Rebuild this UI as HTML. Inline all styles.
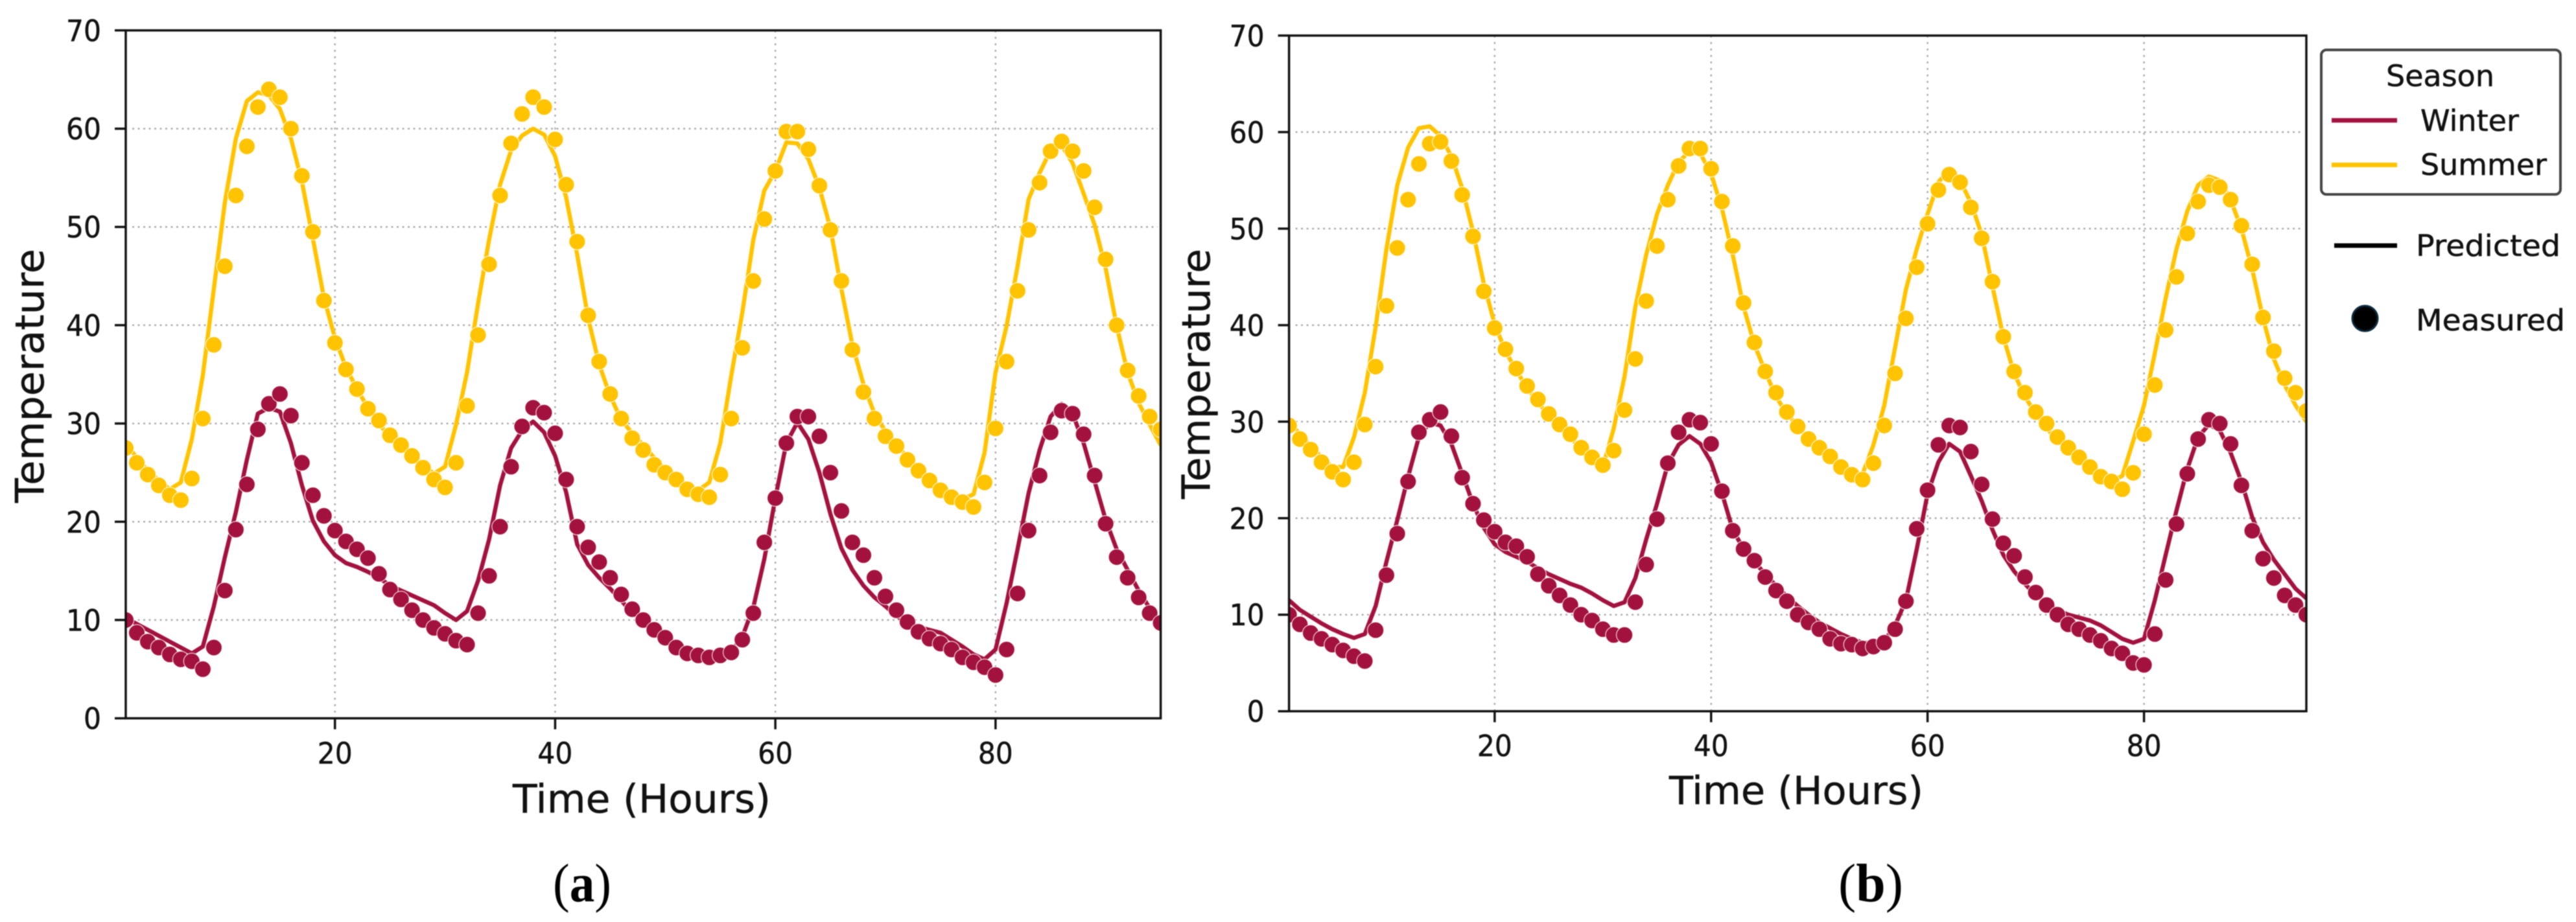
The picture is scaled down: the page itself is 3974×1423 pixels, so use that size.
<!DOCTYPE html>
<html lang="en">
<head>
<meta charset="utf-8">
<title>Measured and predicted temperature by season</title>
<style>
html,body{margin:0;padding:0;background:#fff;width:3974px;height:1423px;overflow:hidden}
svg{display:block;filter:blur(0.7px)}
text{font-family:"DejaVu Sans","Liberation Sans",sans-serif;fill:#111;stroke:#111;stroke-width:0.5px}
.cap{font-family:"Liberation Serif",serif;fill:#000;stroke:none}
</style>
</head>
<body>
<svg id="figure" xmlns="http://www.w3.org/2000/svg" width="3974" height="1423" viewBox="0 0 3974 1423">
  <rect x="0" y="0" width="3974" height="1423" fill="#fff"/>
  <defs>
    <clipPath id="clip-a"><rect x="194" y="47" width="1597" height="1062"/></clipPath>
    <clipPath id="clip-b"><rect x="1988.6" y="55" width="1570" height="1043"/></clipPath>
  </defs>
  <g id="panel-a"></g>
  <g id="panel-b"></g>

  <text x="791" y="1254" font-size="61" textLength="398" lengthAdjust="spacingAndGlyphs">Time (Hours)</text>
  <text transform="translate(67,776) rotate(-90)" font-size="61" textLength="392" lengthAdjust="spacingAndGlyphs">Temperature</text>
  <text x="2575" y="1241" font-size="60" textLength="392" lengthAdjust="spacingAndGlyphs">Time (Hours)</text>
  <text transform="translate(1866,770) rotate(-90)" font-size="60" textLength="386" lengthAdjust="spacingAndGlyphs">Temperature</text>

  <text class="cap" x="853" y="1391" font-size="84" textLength="90" lengthAdjust="spacingAndGlyphs">(<tspan font-weight="bold">a</tspan>)</text>
  <text class="cap" x="2836" y="1391" font-size="84" textLength="100" lengthAdjust="spacingAndGlyphs">(<tspan font-weight="bold">b</tspan>)</text>

  <g>
    <rect x="3581" y="77" width="369" height="223" rx="8" ry="8" fill="#fff" stroke="#444" stroke-width="4"/>
    <text x="3681" y="133" font-size="45" textLength="167" lengthAdjust="spacingAndGlyphs">Season</text>
    <line x1="3597" x2="3698" y1="185.7" y2="185.7" stroke="#a3123f" stroke-width="7"/>
    <text x="3734" y="202" font-size="45" textLength="152" lengthAdjust="spacingAndGlyphs">Winter</text>
    <line x1="3597" x2="3698" y1="254.5" y2="254.5" stroke="#ffc300" stroke-width="7"/>
    <text x="3734" y="270" font-size="45" textLength="195" lengthAdjust="spacingAndGlyphs">Summer</text>
    <line x1="3601" x2="3698" y1="379" y2="379" stroke="#000" stroke-width="7"/>
    <text x="3727" y="395" font-size="45" textLength="223" lengthAdjust="spacingAndGlyphs">Predicted</text>
    <circle cx="3648.5" cy="491.5" r="19.5" fill="#000" stroke="#0b2a3c" stroke-width="3"/>
    <text x="3727" y="510" font-size="45" textLength="230" lengthAdjust="spacingAndGlyphs">Measured</text>
  </g>
</svg>
<script>
const hours = [
1,2,3,4,5,6,7,8,9,10,11,12,13,14,15,16,17,18,19,20,
21,22,23,24,25,26,27,28,29,30,31,32,33,34,35,36,37,38,39,40,
41,42,43,44,45,46,47,48,49,50,51,52,53,54,55,56,57,58,59,60,
61,62,63,64,65,66,67,68,69,70,71,72,73,74,75,76,77,78,79,80,
81,82,83,84,85,86,87,88,89,90,91,92,93,94,95];
const xTickLabels = [20,40,60,80];
const yTickLabels = [0,10,20,30,40,50,60,70];

const summerMeasuredA = [
27.5,26,24.8,23.7,22.7,22.2,24.4,30.5,38,46,
53.2,58.2,62.2,64,63.2,60,55.2,49.5,42.5,38.2,
35.5,33.5,31.5,30.3,28.8,27.8,26.7,25.5,24.3,23.5,
26,31.8,39,46.2,53.2,58.5,61.5,63.2,62.2,58.9,
54.3,48.5,41,36.3,33,30.5,28.5,27.3,25.8,25,
24.3,23.3,22.8,22.5,24.8,30.5,37.7,44.5,50.8,55.7,
59.7,59.7,57.9,54.2,49.7,44.5,37.5,33.2,30.5,28.7,
27.7,26.3,25.2,24.2,23.2,22.5,22,21.5,24,29.5,
36.3,43.5,49.7,54.5,57.7,58.7,57.7,55.7,52,46.7,
40,35.4,32.8,30.7,29.4];
const summerPredictedA = [
28,26.5,25.2,24.2,23.3,24,28.4,34.9,43.7,52.5,
59,62.8,63.7,63.4,62,59,54.6,48.8,42.8,38.7,
35.7,33.5,31.6,29.9,28.7,27.5,27,25.7,24.9,25.6,
29.9,35.2,42.2,48.7,54.3,57.8,59.3,60,59.4,57.2,
53,47.2,40.7,36,32.8,30.4,29,27.8,26.5,25.3,
24.5,23.7,23.2,24,28,34.9,41.3,48.7,53.7,55.7,
58.6,58.5,56.9,54,49.9,43.7,38,34,31,29.2,
27.9,26.5,25.4,24.4,23.4,22.8,22.3,22.8,27,35.2,
39.9,46,52.8,55.5,57.8,58.3,56.5,53.4,50.2,45.8,
39.9,35.2,32.1,29.9,27.8];
const winterMeasuredA = [
10,8.7,7.8,7.2,6.5,6,5.8,5,7.2,13,
19.2,23.8,29.4,32,33,30.8,26,22.7,20.6,19.1,
18,17.2,16.3,14.7,13.1,12.1,11,10,9.2,8.6,
7.9,7.5,10.7,14.5,19.5,25.6,29.7,31.6,31.1,29,
24.3,19.5,17.4,15.9,14.3,12.6,11.1,10,9,8.2,
7.2,6.6,6.4,6.2,6.4,6.7,8,10.7,17.9,22.4,
28,30.7,30.7,28.7,25,21.1,17.9,16.6,14.3,12.4,
11,9.8,8.8,8.1,7.6,7,6.2,5.7,5.2,4.4,
7,12.7,19.1,24.7,29.1,31.3,31,28.9,24.7,19.8,
16.4,14.3,12.3,10.7,9.7];
const winterPredictedA = [
10.2,9.6,9,8.4,7.8,7.2,6.6,7.3,11.4,16.4,
21,26.3,31,31.6,31.2,28,23.7,20.1,18,16.6,
15.8,15.4,14.9,14.3,13.5,13,12.5,12,11.5,10.7,
10,10.9,14,18.2,23.7,27.5,29.3,30.2,29.1,26.7,
23,17.7,15.6,14.3,13.2,12,10.7,9.9,9,8.2,
7.4,6.9,6.4,6.3,6.4,6.8,8.3,11.3,16.2,22.4,
28,30.1,28.4,25,20.8,17.3,15.1,13.5,12.3,11.4,
10.4,9.8,9.3,9,8.7,8,7.3,6.5,6,7,
11.7,17.2,22.9,27.3,30.7,32,31,28,24.1,20.2,
17.2,15.1,13,11.2,9.4];

const summerMeasuredB = [
29.6,28.2,27.1,25.8,24.8,24,25.8,29.7,35.7,42,
48,53,56.7,58.8,59,57,53.5,49.2,43.5,39.7,
37.5,35.5,33.7,32.3,30.8,29.7,28.7,27.3,26.3,25.5,
27,31.2,36.5,42.5,48.2,53,56.5,58.3,58.3,56.2,
52.8,48.2,42.3,38.2,35.2,33,31,29.5,28.2,27.3,
26.4,25.3,24.5,24,25.7,29.6,35,40.7,46,50.5,
54,55.6,54.8,52.2,49,44.5,38.8,35.2,33,31,
29.8,28.4,27.3,26.3,25.3,24.3,23.8,23,24.7,28.7,
33.8,39.5,45,49.5,52.8,54.5,54.3,53,50.3,46.3,
40.8,37.3,34.5,33,31.1];
const summerPredictedB = [
30,28.7,27.5,26.3,25.3,25.3,28.4,33,39.8,47.9,
54.5,58.4,60.4,60.6,59.6,57.5,54.2,49.7,44.3,40.1,
37.3,35.3,33.5,32,30.7,29.5,28.4,27.1,25.8,25.3,
29.3,34.7,41.9,47.3,51.5,54.5,56.9,58,57.8,55.7,
52.1,47.3,41.9,38,35.2,32.6,30.8,29.6,28.2,27,
26,25.2,24.5,24.6,27.6,31.7,37.7,43.7,47.9,51.5,
54.8,56.1,55,52.7,49.4,44,38.8,35,32.6,30.8,
29.3,28.1,27,26,25,24.3,23.8,24.4,28,31.7,
37.1,42.8,47.9,51.8,54.5,55.4,55,53,50,45.8,
40.7,36.5,33.8,31.7,30];
const winterMeasuredB = [
10,9,8.1,7.5,6.9,6.3,5.7,5.2,8.4,14.1,
18.4,23.8,28.9,30.2,31,28.5,24.2,21.5,19.8,18.6,
17.5,17.1,16,14.2,13,12,11,10,9.4,8.5,
7.9,7.9,11.3,15.2,19.9,25.7,28.9,30.2,29.9,27.7,
22.8,18.7,16.8,15.6,13.9,12.5,11.4,10,9.2,8.5,
7.5,7,6.9,6.5,6.7,7.1,8.5,11.4,18.9,22.9,
27.6,29.6,29.4,26.9,23.5,19.9,17.4,16.1,13.9,12.3,
11,10,9,8.5,7.9,7.3,6.5,6,5,4.8,
8,13.6,19.4,24.6,28.2,30.2,29.8,27.7,23.4,18.7,
15.8,13.8,12,11,10];
const winterPredictedB = [
11.5,10.5,9.8,9.1,8.5,8,7.6,8,10.9,15.5,
19.8,24.3,28.4,29.9,29.6,27.7,24.6,21.5,19,17.3,
16.5,16,15.5,14.8,14.2,13.7,13.2,12.8,12.2,11.5,
10.9,11.3,13.8,17.8,21.5,25.6,27.6,28.5,27.7,25.8,
22.6,18.8,16.8,15.5,14.2,13,11.9,10.9,10,9.2,
8.6,8,7.5,7.1,7.1,7.3,8.9,11.5,16.8,22.5,
25.8,27.7,26.9,24.4,21.8,18.8,16.2,14.5,13.2,12,
11.2,10.5,10,9.7,9.4,8.9,8.2,7.5,7.1,7.5,
11.5,16.2,20.8,25.1,28.4,29.7,29.1,26.8,23.8,20.1,
17.5,15.7,14.2,12.7,11.7];

const SVGNS = 'http://www.w3.org/2000/svg';
const WINTER = '#a3123f';
const SUMMER = '#ffc300';

function make(tag, parent, attrs) {
  const el = document.createElementNS(SVGNS, tag);
  for (const k in attrs) el.setAttribute(k, attrs[k]);
  parent.appendChild(el);
  return el;
}

function drawPanel(id, box, series) {
  const root = document.getElementById(id);
  const sx = function (h) { return box.left + (h - 1) * (box.right - box.left) / 94; };
  const sy = function (v) { return box.bottom - v * (box.bottom - box.top) / 70; };

  xTickLabels.forEach(function (t) {
    const g = make('line', root, {x1: sx(t), x2: sx(t), y1: box.top, y2: box.bottom, stroke: '#aaa', 'stroke-width': 2.5, 'stroke-dasharray': '3 7'});
    
    
    const m = make('line', root, {x1: sx(t), x2: sx(t), y1: box.bottom, y2: box.bottom + 17, stroke: '#111', 'stroke-width': 3.5});
    
    
    const l = make('text', root, {x: sx(t) - 27, y: box.xLabelY, 'font-size': 45, textLength: 54, lengthAdjust: 'spacingAndGlyphs'});
    l.textContent = String(t);
    
    
  });
  yTickLabels.forEach(function (t) {
    if (t > 0 && t < 70) {
      const g = make('line', root, {x1: box.left + 10, x2: box.right - 5, y1: sy(t), y2: sy(t), stroke: '#aaa', 'stroke-width': 2.5, 'stroke-dasharray': '3 5.5'});
      
      
    }
    const m = make('line', root, {x1: box.left - 17, x2: box.left, y1: sy(t), y2: sy(t), stroke: '#111', 'stroke-width': 3.5});
    
    
    const w = String(t).length * 27;
    const l = make('text', root, {x: box.left - 38 - w, y: sy(t) + 16.5, 'font-size': 45, textLength: w, lengthAdjust: 'spacingAndGlyphs'});
    l.textContent = String(t);
    
    
  });

  const plot = make('g', root, {'clip-path': 'url(#' + box.clip + ')'});
  
  

  series.forEach(function (s) {
    const d = s.predicted.map(function (v, i) {
      return (i ? 'L' : 'M') + sx(hours[i]).toFixed(1) + ' ' + sy(v).toFixed(1);
    }).join(' ');
    const p = make('path', plot, {d: d, fill: 'none', stroke: s.color, 'stroke-width': 6.5, 'stroke-linejoin': 'round'});
    
    
  });
  series.forEach(function (s) {
    s.measured.forEach(function (v, i) {
      const c = make('circle', plot, {cx: sx(hours[i]), cy: sy(v), r: 12.6, fill: s.color, stroke: '#fff', 'stroke-width': 1});
      
      
    });
  });

  const frame = make('rect', root, {x: box.left, y: box.top, width: box.right - box.left, height: box.bottom - box.top, fill: 'none', stroke: '#111', 'stroke-width': 3.5});
  
  
}

drawPanel('panel-a',
  {left: 194, right: 1790.6, top: 46.9, bottom: 1108.6, xLabelY: 1178.5, clip: 'clip-a'},
  [{name: 'winter', color: WINTER, measured: winterMeasuredA, predicted: winterPredictedA},
   {name: 'summer', color: SUMMER, measured: summerMeasuredA, predicted: summerPredictedA}]);
drawPanel('panel-b',
  {left: 1988.6, right: 3558, top: 54.9, bottom: 1097.7, xLabelY: 1167, clip: 'clip-b'},
  [{name: 'winter', color: WINTER, measured: winterMeasuredB, predicted: winterPredictedB},
   {name: 'summer', color: SUMMER, measured: summerMeasuredB, predicted: summerPredictedB}]);
</script>
</body>
</html>
